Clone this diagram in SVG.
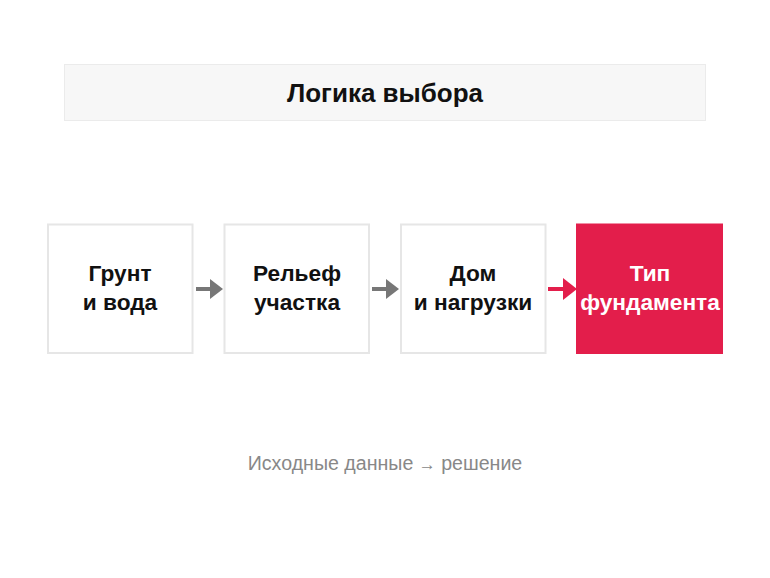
<svg xmlns="http://www.w3.org/2000/svg" width="770" height="578" viewBox="0 0 770 578">
<style>
.box{fill:#ffffff;stroke:#e6e6e6;stroke-width:2}
.lbl{font-family:"Liberation Sans",Arial,sans-serif;font-weight:bold;font-size:22.7px;fill:#111;text-anchor:middle}
.gray{stroke:#777;stroke-width:4;fill:none}
.red{stroke:#e31e4b;stroke-width:4;fill:none}
</style>
<rect width="770" height="578" fill="#fff"/>
<g id="title">
<rect x="64.5" y="64.5" width="641" height="56" fill="#f7f7f7" stroke="#ebebeb" stroke-width="1"/>
<text x="385" y="102" font-family="'Liberation Sans',Arial,sans-serif" font-weight="bold" font-size="26" fill="#111" text-anchor="middle">Логика выбора</text>
</g>
<g id="connectors">
<line x1="196" y1="289" x2="212" y2="289" class="gray"/>
<path d="M210,279 L223,289 L210,299 Z" fill="#777"/>
<line x1="372" y1="289" x2="388" y2="289" class="gray"/>
<path d="M386,279 L399,289 L386,299 Z" fill="#777"/>
<line x1="548" y1="289" x2="565" y2="289" class="red"/>
<path d="M563,278 L577,289 L563,300 Z" fill="#e31e4b"/>
</g>
<g id="n1">
<rect x="48" y="224.5" width="144.5" height="128.5" class="box"/>
<text class="lbl" x="120" y="281">Грунт</text>
<text class="lbl" x="120" y="310">и вода</text>
</g>
<g id="n2">
<rect x="224.5" y="224.5" width="144.5" height="128.5" class="box"/>
<text class="lbl" x="297" y="281">Рельеф</text>
<text class="lbl" x="297" y="310">участка</text>
</g>
<g id="n3">
<rect x="401" y="224.5" width="144.5" height="128.5" class="box"/>
<text class="lbl" x="473" y="281">Дом</text>
<text class="lbl" x="473" y="310">и нагрузки</text>
</g>
<g id="n4">
<rect x="576" y="223.5" width="147" height="130.5" fill="#e31e4b"/>
<text class="lbl" x="650" y="281" style="fill:#fff">Тип</text>
<text class="lbl" x="650" y="310" style="fill:#fff">фундамента</text>
</g>
<g id="caption">
<text x="385" y="470" font-family="'Liberation Sans',Arial,sans-serif" font-size="19.6" fill="#888" text-anchor="middle">Исходные данные <tspan font-size="17">→</tspan> решение</text>
</g>
</svg>
